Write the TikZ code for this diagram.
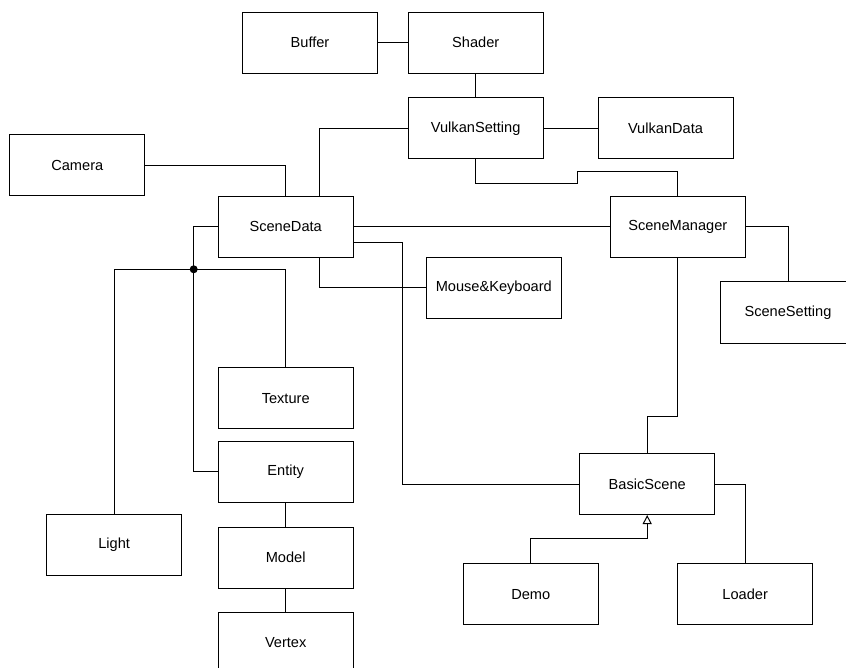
\documentclass[tikz,border=0pt]{standalone}
\usepackage{fontspec}
\setmainfont{Liberation Sans}
\usetikzlibrary{arrows.meta}
\begin{document}
\begin{tikzpicture}[x=1pt,y=-1pt,
  cls/.style={draw, line width=1pt, minimum width=135pt, minimum height=61pt,
              inner sep=0pt, font=\fontsize{14.6}{17}\selectfont},
  link/.style={line width=1pt},
  inherit/.style={link, -{Triangle[open, length=9pt, width=9pt]}}]
\useasboundingbox (0,0) rectangle (846,668);
\clip (0,0) rectangle (846,668);

% classes
\node[cls] (Buffer)        at (310,42.7)    {Buffer};
\node[cls] (Shader)        at (475.7,42.7)  {Shader};
\node[cls] (VulkanSetting) at (475.7,128.5) {VulkanSetting};
\node[cls] (VulkanData)    at (665.5,128.5) {VulkanData};
\node[cls] (Camera)        at (77.3,165.3)  {Camera};
\node[cls] (SceneData)     at (285.7,226.7) {SceneData};
\node[cls] (SceneManager)  at (677.8,226.7) {SceneManager};
\node[cls] (MouseKeyboard) at (493.8,287.8) {Mouse\&Keyboard};
\node[cls] (SceneSetting)  at (788,312.5)   {SceneSetting};
\node[cls] (Texture)       at (285.7,398.2) {Texture};
\node[cls] (Entity)        at (285.7,471.5) {Entity};
\node[cls] (Light)         at (114.2,545.2) {Light};
\node[cls] (Model)         at (285.7,557.5) {Model};
\node[cls] (Vertex)        at (285.7,642.8) {Vertex};
\node[cls] (BasicScene)    at (647.2,484)   {BasicScene};
\node[cls] (Demo)          at (530.8,594.2) {Demo};
\node[cls] (Loader)        at (745.2,594.2) {Loader};

% routing points
\coordinate (sdTap)   at (319.7,0);
\coordinate (jogA)    at (577.3,183.3);
\coordinate (jogB)    at (677.8,171.7);
\coordinate (mgrBend) at (647.2,416.3);
\coordinate (loopX)   at (402,0);
\coordinate (hub)     at (193.7,269.3);
\coordinate (inhBend) at (647.2,538.7);

% associations
\draw[link] (Buffer) -- (Shader);
\draw[link] (Shader) -- (VulkanSetting);
\draw[link] (VulkanSetting) -- (VulkanData);
\draw[link] (VulkanSetting.west) -| (sdTap |- SceneData.north);
\draw[link] (Camera.east) -| (SceneData.north);
\draw[link] (VulkanSetting.south) |- (jogA) |- (jogB) -- (SceneManager.north);
\draw[link] (SceneData.east) -- (SceneManager.west);
\draw[link] (SceneManager.east) -| (SceneSetting.north);
\draw[link] (SceneManager.south) |- (mgrBend) -- (BasicScene.north);
\draw[link] ([yshift=-16pt]SceneData.east) -| (loopX |- BasicScene.west) -- (BasicScene.west);
\draw[link] (sdTap |- SceneData.south) |- (MouseKeyboard.west);
\draw[link] (SceneData.west) -| (hub) |- (Entity.west);
\draw[link] (Light.north) |- (hub) -| (Texture.north);
\fill (hub) circle (4);
\draw[link] (Entity) -- (Model);
\draw[link] (Model) -- (Vertex);
\draw[link] (BasicScene.east) -| (Loader.north);

% inheritance
\draw[inherit] (Demo.north) |- (inhBend) -- (BasicScene.south);
\end{tikzpicture}
\end{document}
